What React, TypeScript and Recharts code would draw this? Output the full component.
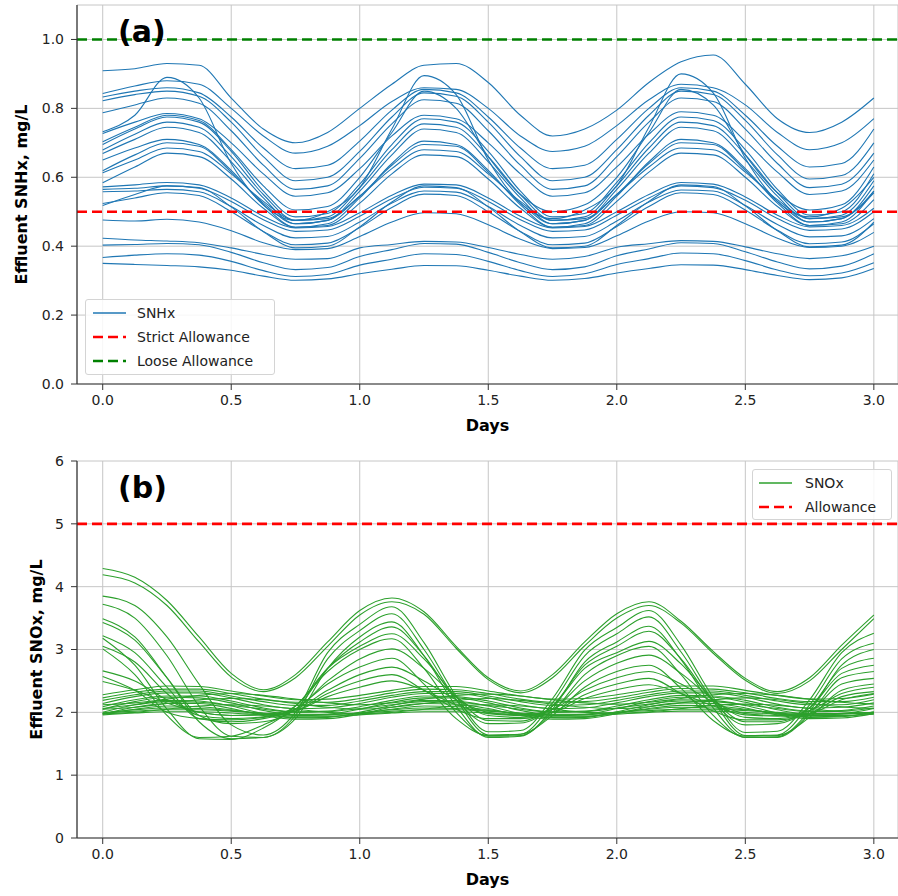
import { CartesianGrid, Label, Line, LineChart, ReferenceLine, XAxis, YAxis } from "recharts";

// time axis (days), sampled every 3 hours
const DAYS = [
  0, 0.125, 0.25, 0.375, 0.5, 0.625, 0.75, 0.875,
  1, 1.125, 1.25, 1.375, 1.5, 1.625, 1.75, 1.875,
  2, 2.125, 2.25, 2.375, 2.5, 2.625, 2.75, 2.875, 3,
];
const DAY_TICKS = [0, 0.5, 1, 1.5, 2, 2.5, 3];
const SNHX_TICKS = [0, 0.2, 0.4, 0.6, 0.8, 1.0];
const SNOX_TICKS = [0, 1, 2, 3, 4, 5, 6];

const SNHX_STRICT = 0.5;
const SNHX_LOOSE = 1.0;
const SNOX_ALLOWANCE = 5;

// effluent SNHx runs (mg/L)
const snhx01 = [0.909, 0.915, 0.93, 0.925, 0.83, 0.74, 0.7, 0.73, 0.8, 0.87, 0.925, 0.93, 0.875, 0.78, 0.72, 0.74, 0.795, 0.875, 0.935, 0.955, 0.87, 0.77, 0.73, 0.76, 0.83];
const snhx02 = [0.843, 0.865, 0.88, 0.87, 0.8, 0.72, 0.67, 0.69, 0.75, 0.82, 0.86, 0.855, 0.8, 0.72, 0.675, 0.69, 0.75, 0.825, 0.87, 0.86, 0.81, 0.73, 0.68, 0.7, 0.77];
const snhx03 = [0.833, 0.85, 0.86, 0.845, 0.775, 0.685, 0.625, 0.635, 0.705, 0.795, 0.855, 0.845, 0.775, 0.685, 0.625, 0.635, 0.71, 0.8, 0.86, 0.85, 0.78, 0.69, 0.63, 0.64, 0.74];
const snhx04 = [0.822, 0.84, 0.85, 0.835, 0.76, 0.66, 0.59, 0.6, 0.675, 0.775, 0.845, 0.835, 0.76, 0.66, 0.59, 0.6, 0.68, 0.78, 0.85, 0.84, 0.765, 0.665, 0.595, 0.605, 0.7];
const snhx05 = [0.787, 0.81, 0.83, 0.815, 0.735, 0.635, 0.565, 0.575, 0.655, 0.755, 0.825, 0.815, 0.735, 0.635, 0.565, 0.575, 0.66, 0.76, 0.83, 0.82, 0.74, 0.64, 0.57, 0.58, 0.67];
const snhx06 = [0.732, 0.78, 0.89, 0.83, 0.64, 0.52, 0.475, 0.5, 0.57, 0.74, 0.895, 0.84, 0.65, 0.525, 0.48, 0.505, 0.575, 0.745, 0.9, 0.845, 0.655, 0.53, 0.485, 0.51, 0.6];
const snhx07 = [0.727, 0.76, 0.785, 0.77, 0.7, 0.61, 0.545, 0.555, 0.625, 0.72, 0.78, 0.77, 0.7, 0.61, 0.545, 0.555, 0.63, 0.725, 0.79, 0.78, 0.705, 0.615, 0.55, 0.56, 0.65];
const snhx08 = [0.703, 0.745, 0.78, 0.765, 0.68, 0.575, 0.505, 0.515, 0.6, 0.73, 0.85, 0.8, 0.66, 0.55, 0.5, 0.52, 0.6, 0.73, 0.855, 0.81, 0.665, 0.555, 0.505, 0.52, 0.63];
const snhx09 = [0.695, 0.74, 0.775, 0.76, 0.675, 0.56, 0.485, 0.495, 0.58, 0.695, 0.77, 0.76, 0.675, 0.56, 0.485, 0.495, 0.585, 0.7, 0.775, 0.765, 0.68, 0.565, 0.49, 0.5, 0.61];
const snhx10 = [0.679, 0.725, 0.76, 0.745, 0.66, 0.55, 0.475, 0.485, 0.57, 0.68, 0.755, 0.745, 0.66, 0.55, 0.475, 0.485, 0.575, 0.685, 0.76, 0.75, 0.665, 0.555, 0.48, 0.49, 0.59];
const snhx11 = [0.669, 0.71, 0.745, 0.73, 0.645, 0.54, 0.465, 0.475, 0.56, 0.665, 0.74, 0.73, 0.645, 0.54, 0.465, 0.475, 0.565, 0.67, 0.745, 0.735, 0.65, 0.545, 0.47, 0.48, 0.575];
const snhx12 = [0.65, 0.685, 0.71, 0.695, 0.62, 0.52, 0.455, 0.465, 0.54, 0.64, 0.705, 0.695, 0.62, 0.52, 0.455, 0.465, 0.545, 0.645, 0.71, 0.7, 0.625, 0.525, 0.46, 0.47, 0.56];
const snhx13 = [0.619, 0.665, 0.7, 0.69, 0.615, 0.525, 0.465, 0.475, 0.545, 0.635, 0.695, 0.69, 0.615, 0.525, 0.465, 0.475, 0.55, 0.64, 0.7, 0.695, 0.62, 0.53, 0.47, 0.48, 0.56];
const snhx14 = [0.613, 0.65, 0.685, 0.675, 0.61, 0.53, 0.475, 0.48, 0.545, 0.625, 0.68, 0.675, 0.61, 0.53, 0.475, 0.48, 0.55, 0.63, 0.685, 0.68, 0.615, 0.535, 0.48, 0.485, 0.555];
const snhx15 = [0.584, 0.63, 0.67, 0.66, 0.595, 0.51, 0.455, 0.46, 0.525, 0.61, 0.665, 0.66, 0.595, 0.51, 0.455, 0.46, 0.53, 0.615, 0.67, 0.665, 0.6, 0.515, 0.46, 0.465, 0.535];
const snhx16 = [0.572, 0.578, 0.585, 0.578, 0.54, 0.487, 0.453, 0.457, 0.497, 0.548, 0.58, 0.578, 0.54, 0.487, 0.453, 0.457, 0.5, 0.55, 0.585, 0.58, 0.543, 0.49, 0.456, 0.46, 0.51];
const snhx17 = [0.565, 0.568, 0.575, 0.568, 0.53, 0.477, 0.443, 0.447, 0.487, 0.538, 0.571, 0.568, 0.53, 0.477, 0.443, 0.447, 0.49, 0.54, 0.575, 0.57, 0.533, 0.48, 0.446, 0.45, 0.5];
const snhx18 = [0.558, 0.56, 0.565, 0.558, 0.515, 0.46, 0.424, 0.428, 0.47, 0.525, 0.56, 0.557, 0.515, 0.46, 0.424, 0.428, 0.473, 0.528, 0.563, 0.56, 0.518, 0.463, 0.427, 0.43, 0.48];
const snhx19 = [0.524, 0.54, 0.555, 0.547, 0.5, 0.443, 0.404, 0.409, 0.454, 0.512, 0.551, 0.547, 0.5, 0.443, 0.404, 0.409, 0.457, 0.515, 0.555, 0.55, 0.505, 0.446, 0.407, 0.412, 0.465];
const snhx20 = [0.518, 0.55, 0.575, 0.57, 0.514, 0.442, 0.395, 0.4, 0.456, 0.528, 0.575, 0.57, 0.514, 0.442, 0.395, 0.4, 0.46, 0.53, 0.578, 0.573, 0.517, 0.445, 0.398, 0.403, 0.47];
const snhx21 = [0.476, 0.473, 0.478, 0.47, 0.445, 0.41, 0.39, 0.393, 0.428, 0.47, 0.497, 0.494, 0.462, 0.42, 0.393, 0.396, 0.43, 0.473, 0.5, 0.497, 0.465, 0.423, 0.396, 0.4, 0.44];
const snhx22 = [0.423, 0.418, 0.415, 0.41, 0.395, 0.376, 0.362, 0.364, 0.395, 0.405, 0.414, 0.412, 0.396, 0.376, 0.362, 0.37, 0.397, 0.407, 0.416, 0.414, 0.398, 0.378, 0.364, 0.372, 0.4];
const snhx23 = [0.403, 0.405, 0.408, 0.404, 0.382, 0.352, 0.332, 0.338, 0.37, 0.39, 0.408, 0.406, 0.382, 0.352, 0.332, 0.34, 0.372, 0.392, 0.41, 0.408, 0.384, 0.354, 0.334, 0.342, 0.378];
const snhx24 = [0.367, 0.374, 0.378, 0.374, 0.356, 0.329, 0.312, 0.318, 0.345, 0.362, 0.378, 0.376, 0.356, 0.329, 0.312, 0.32, 0.347, 0.364, 0.38, 0.378, 0.358, 0.331, 0.314, 0.322, 0.352];
const snhx25 = [0.35, 0.347, 0.344, 0.34, 0.33, 0.313, 0.301, 0.305, 0.32, 0.333, 0.344, 0.343, 0.33, 0.313, 0.301, 0.306, 0.322, 0.335, 0.346, 0.345, 0.332, 0.315, 0.303, 0.308, 0.335];

const SNHX_RUNS = [
  snhx01, snhx02, snhx03, snhx04, snhx05, snhx06, snhx07, snhx08, snhx09, snhx10,
  snhx11, snhx12, snhx13, snhx14, snhx15, snhx16, snhx17, snhx18, snhx19, snhx20,
  snhx21, snhx22, snhx23, snhx24, snhx25,
];

// effluent SNOx runs (mg/L)
const snox01 = [4.29, 4.15, 3.78, 3.2, 2.62, 2.36, 2.6, 3.12, 3.62, 3.82, 3.6, 3.05, 2.55, 2.34, 2.6, 3.12, 3.57, 3.76, 3.45, 2.97, 2.54, 2.33, 2.55, 3.07, 3.55];
const snox02 = [4.19, 4.06, 3.7, 3.12, 2.56, 2.33, 2.55, 3.05, 3.55, 3.76, 3.56, 3.02, 2.52, 2.31, 2.55, 3.06, 3.5, 3.7, 3.42, 2.94, 2.51, 2.3, 2.5, 3.0, 3.49];
const snox03 = [3.85, 3.7, 3.2, 2.45, 1.8, 1.64, 2.0, 2.95, 3.4, 3.68, 3.11, 2.26, 1.69, 1.71, 2.22, 2.99, 3.35, 3.62, 3.07, 2.24, 1.68, 1.7, 2.2, 2.95, 3.26];
const snox04 = [3.72, 3.5, 2.9, 2.1, 1.62, 1.6, 1.95, 2.85, 3.3, 3.57, 3.0, 2.2, 1.64, 1.65, 2.15, 2.9, 3.25, 3.52, 2.96, 2.18, 1.63, 1.64, 2.12, 2.85, 3.1];
const snox05 = [3.49, 3.2, 2.55, 1.85, 1.58, 1.6, 1.9, 2.7, 3.2, 3.44, 2.9, 2.1, 1.6, 1.62, 2.05, 2.8, 3.12, 3.37, 2.84, 2.07, 1.6, 1.61, 2.02, 2.75, 3.0];
const snox06 = [3.43, 3.15, 2.55, 1.95, 1.82, 1.85, 2.05, 2.7, 3.12, 3.36, 2.9, 2.2, 1.82, 1.83, 2.1, 2.75, 3.05, 3.29, 2.85, 2.17, 1.8, 1.82, 2.07, 2.7, 2.86];
const snox07 = [3.22, 2.95, 2.4, 1.9, 1.85, 1.9, 2.1, 2.7, 3.05, 3.25, 2.85, 2.25, 1.87, 1.86, 2.1, 2.7, 2.95, 3.13, 2.77, 2.2, 1.85, 1.85, 2.07, 2.62, 2.75];
const snox08 = [3.18, 2.75, 2.05, 1.58, 1.57, 1.75, 2.1, 2.65, 3.0, 3.17, 2.7, 2.0, 1.62, 1.63, 2.0, 2.6, 2.9, 3.05, 2.6, 1.95, 1.6, 1.6, 1.97, 2.55, 2.65];
const snox09 = [3.05, 2.8, 2.3, 1.95, 1.9, 1.93, 2.05, 2.5, 2.85, 3.01, 2.7, 2.25, 1.95, 1.92, 2.05, 2.5, 2.78, 2.91, 2.62, 2.2, 1.92, 1.9, 2.02, 2.45, 2.54];
const snox10 = [3.01, 2.6, 1.95, 1.6, 1.62, 1.8, 2.05, 2.45, 2.72, 2.86, 2.45, 1.9, 1.63, 1.65, 1.95, 2.4, 2.65, 2.75, 2.38, 1.87, 1.62, 1.63, 1.92, 2.35, 2.45];
const snox11 = [2.66, 2.5, 2.2, 2.0, 1.95, 1.97, 2.05, 2.35, 2.6, 2.72, 2.5, 2.2, 2.0, 1.96, 2.05, 2.35, 2.55, 2.65, 2.45, 2.17, 1.98, 1.95, 2.03, 2.3, 2.4];
const snox12 = [2.57, 2.35, 2.0, 1.9, 1.88, 1.92, 2.02, 2.3, 2.5, 2.6, 2.35, 2.05, 1.9, 1.9, 2.0, 2.28, 2.45, 2.54, 2.3, 2.02, 1.88, 1.88, 1.98, 2.25, 2.33];
const snox13 = [2.49, 2.35, 2.15, 2.0, 1.95, 1.96, 2.02, 2.25, 2.4, 2.5, 2.35, 2.12, 1.98, 1.95, 2.0, 2.22, 2.36, 2.44, 2.3, 2.1, 1.96, 1.94, 1.98, 2.2, 2.3];
const snox14 = [2.28, 2.36, 2.42, 2.41, 2.34, 2.26, 2.2, 2.21, 2.27, 2.35, 2.41, 2.41, 2.34, 2.26, 2.21, 2.22, 2.28, 2.36, 2.42, 2.42, 2.35, 2.27, 2.21, 2.22, 2.29];
const snox15 = [2.23, 2.32, 2.37, 2.37, 2.3, 2.21, 2.16, 2.16, 2.22, 2.31, 2.37, 2.36, 2.3, 2.21, 2.16, 2.17, 2.23, 2.32, 2.38, 2.37, 2.31, 2.22, 2.17, 2.17, 2.24];
const snox16 = [2.19, 2.28, 2.34, 2.34, 2.26, 2.17, 2.11, 2.11, 2.18, 2.27, 2.33, 2.33, 2.26, 2.17, 2.11, 2.12, 2.19, 2.28, 2.34, 2.34, 2.27, 2.18, 2.12, 2.12, 2.2];
const snox17 = [2.14, 2.25, 2.31, 2.31, 2.23, 2.12, 2.06, 2.07, 2.14, 2.24, 2.3, 2.3, 2.23, 2.12, 2.06, 2.07, 2.15, 2.25, 2.31, 2.31, 2.24, 2.13, 2.07, 2.08, 2.15];
const snox18 = [2.12, 2.15, 2.21, 2.27, 2.3, 2.27, 2.21, 2.15, 2.12, 2.15, 2.21, 2.27, 2.29, 2.26, 2.2, 2.15, 2.13, 2.16, 2.22, 2.28, 2.3, 2.27, 2.21, 2.16, 2.13];
const snox19 = [2.09, 2.2, 2.26, 2.26, 2.18, 2.07, 2.01, 2.02, 2.09, 2.19, 2.26, 2.25, 2.18, 2.07, 2.01, 2.02, 2.1, 2.2, 2.27, 2.26, 2.19, 2.08, 2.02, 2.03, 2.1];
const snox20 = [2.05, 2.17, 2.24, 2.23, 2.15, 2.03, 1.96, 1.97, 2.05, 2.16, 2.23, 2.23, 2.15, 2.03, 1.96, 1.97, 2.06, 2.17, 2.24, 2.24, 2.16, 2.04, 1.97, 1.98, 2.06];
const snox21 = [2.05, 2.08, 2.14, 2.2, 2.22, 2.2, 2.14, 2.08, 2.05, 2.08, 2.14, 2.19, 2.22, 2.19, 2.13, 2.08, 2.06, 2.09, 2.15, 2.2, 2.23, 2.2, 2.14, 2.09, 2.06];
const snox22 = [2.0, 2.12, 2.19, 2.18, 2.1, 1.98, 1.91, 1.92, 2.0, 2.11, 2.19, 2.18, 2.1, 1.98, 1.91, 1.92, 2.01, 2.12, 2.2, 2.19, 2.11, 1.99, 1.92, 1.93, 2.01];
const snox23 = [2.06, 2.12, 2.17, 2.16, 2.11, 2.05, 2.0, 2.01, 2.06, 2.12, 2.17, 2.16, 2.11, 2.05, 2.0, 2.01, 2.07, 2.13, 2.18, 2.17, 2.12, 2.06, 2.01, 2.02, 2.07];
const snox24 = [1.97, 2.08, 2.14, 2.14, 2.06, 1.95, 1.89, 1.9, 1.97, 2.08, 2.14, 2.13, 2.06, 1.95, 1.89, 1.9, 1.98, 2.09, 2.15, 2.14, 2.07, 1.96, 1.9, 1.91, 1.98];
const snox25 = [1.98, 2.0, 2.05, 2.1, 2.12, 2.1, 2.05, 2.0, 1.98, 2.0, 2.05, 2.1, 2.12, 2.1, 2.05, 2.0, 1.99, 2.01, 2.06, 2.11, 2.13, 2.11, 2.06, 2.01, 1.99];
const snox26 = [1.98, 2.05, 2.1, 2.09, 2.04, 1.97, 1.92, 1.93, 1.98, 2.05, 2.1, 2.09, 2.04, 1.97, 1.92, 1.93, 1.99, 2.06, 2.11, 2.1, 2.05, 1.98, 1.93, 1.94, 1.99];
const snox27 = [1.99, 2.04, 2.07, 2.06, 2.03, 1.98, 1.95, 1.96, 1.99, 2.04, 2.07, 2.06, 2.03, 1.98, 1.95, 1.96, 2.0, 2.05, 2.08, 2.07, 2.04, 1.99, 1.96, 1.97, 2.0];
const snox28 = [1.99, 2.02, 2.04, 2.04, 2.02, 1.99, 1.97, 1.97, 1.99, 2.02, 2.04, 2.04, 2.02, 1.99, 1.97, 1.97, 2.0, 2.03, 2.05, 2.05, 2.03, 2.0, 1.98, 1.98, 2.0];
const snox29 = [1.96, 1.99, 2.01, 2.01, 1.99, 1.96, 1.94, 1.94, 1.96, 1.99, 2.01, 2.01, 1.99, 1.96, 1.94, 1.94, 1.97, 2.0, 2.02, 2.02, 2.0, 1.97, 1.95, 1.95, 1.97];

const SNOX_RUNS = [
  snox01, snox02, snox03, snox04, snox05, snox06, snox07, snox08, snox09, snox10,
  snox11, snox12, snox13, snox14, snox15, snox16, snox17, snox18, snox19, snox20,
  snox21, snox22, snox23, snox24, snox25, snox26, snox27, snox28, snox29,
];

const FONT = "'DejaVu Sans', sans-serif";
const INK = "#222";
const SPINE = "#333";
const GRID = "#c6c6c6";
const BLUE = "#1f77b4";
const GREEN = "#2ca02c";
const RED = "#ff0000";
const DARK_GREEN = "#008000";
const X_DOMAIN: [number, number] = [-0.1, 3.094];
const WIDTH = 898;
const Y_AXIS_W = 77;

function toRows(runs: number[][]) {
  return DAYS.map((t, i) => {
    const row: Record<string, number> = { t };
    runs.forEach((r, j) => {
      row[`r${j}`] = r[i];
    });
    return row;
  });
}

type RefSpec = { y: number; color: string; name: string };

type PanelProps = {
  height: number;
  top: number;
  xAxisH: number;
  runs: number[][];
  color: string;
  runName: string;
  yMax: number;
  yTicks: number[];
  yFmt: (v: number) => string;
  yLabel: string;
  yLabelX: number;
  refs: RefSpec[];
  tag: string;
  legendBox: { left: number; top: number; width: number; height: number; sampleX: number; textX: number; firstY: number };
};

function LegendSample({ color, dashed, width }: { color: string; dashed: boolean; width: number }) {
  return (
    <svg width={34} height={6} style={{ display: "block" }}>
      <line
        x1={0}
        x2={33}
        y1={3}
        y2={3}
        stroke={color}
        strokeWidth={width}
        strokeDasharray={dashed ? "10 5" : undefined}
      />
    </svg>
  );
}

function Panel(p: PanelProps) {
  const rows = toRows(p.runs);
  const plotBottom = p.height - p.xAxisH;
  const plotMidY = (p.top + plotBottom) / 2;
  const plotMidX = Y_AXIS_W + (WIDTH - Y_AXIS_W) / 2;
  const entries = [
    { name: p.runName, color: p.color, dashed: false, w: 1.4 },
    ...p.refs.map((r) => ({ name: r.name, color: r.color, dashed: true, w: 2.6 })),
  ];
  const lb = p.legendBox;

  return (
    <div style={{ position: "relative", width: WIDTH, height: p.height }}>
      <LineChart width={WIDTH} height={p.height} data={rows} margin={{ top: p.top, right: 0, bottom: 0, left: 0 }}>
        <CartesianGrid stroke={GRID} strokeWidth={1} />
        <XAxis
          xAxisId="top"
          orientation="top"
          type="number"
          dataKey="t"
          domain={X_DOMAIN}
          ticks={DAY_TICKS}
          allowDataOverflow
          height={0}
          tick={false}
          tickLine={false}
          axisLine={{ stroke: SPINE, strokeWidth: 1.2 }}
        />
        <XAxis
          type="number"
          dataKey="t"
          domain={X_DOMAIN}
          ticks={DAY_TICKS}
          allowDataOverflow
          height={p.xAxisH}
          tickSize={6}
          tickMargin={5}
          axisLine={{ stroke: SPINE, strokeWidth: 1.2 }}
          tickLine={{ stroke: SPINE }}
          tick={{ fill: INK, fontSize: 14, fontFamily: FONT }}
          tickFormatter={(v: number) => v.toFixed(1)}
        >
          <Label
            content={() => (
              <text
                x={plotMidX}
                y={plotBottom + 41}
                textAnchor="middle"
                dominantBaseline="central"
                fontFamily={FONT}
                fontSize={16}
                fontWeight="bold"
                fill="#000"
              >
                Days
              </text>
            )}
          />
        </XAxis>
        <YAxis
          type="number"
          domain={[0, p.yMax]}
          ticks={p.yTicks}
          allowDataOverflow
          width={Y_AXIS_W}
          tickSize={6}
          tickMargin={7}
          axisLine={{ stroke: SPINE, strokeWidth: 1.2 }}
          tickLine={{ stroke: SPINE }}
          tick={{ fill: INK, fontSize: 14, fontFamily: FONT }}
          tickFormatter={p.yFmt}
        >
          <Label
            content={() => (
              <text
                x={p.yLabelX}
                y={plotMidY}
                transform={`rotate(-90 ${p.yLabelX} ${plotMidY})`}
                textAnchor="middle"
                dominantBaseline="central"
                fontFamily={FONT}
                fontSize={16}
                fontWeight="bold"
                fill="#000"
              >
                {p.yLabel}
              </text>
            )}
          />
        </YAxis>
        {p.runs.map((_, j) => (
          <Line
            key={j}
            type="monotone"
            dataKey={`r${j}`}
            stroke={p.color}
            strokeWidth={1.1}
            dot={false}
            activeDot={false}
            isAnimationActive={false}
          />
        ))}
        {p.refs.map((r) => (
          <ReferenceLine key={r.name} y={r.y} stroke={r.color} strokeWidth={2.6} strokeDasharray="10 5" />
        ))}
      </LineChart>

      <div
        style={{
          position: "absolute",
          left: 118,
          top: p.top + 12,
          fontFamily: FONT,
          fontSize: 30,
          fontWeight: "bold",
          lineHeight: 1,
          color: "#000",
        }}
      >
        {p.tag}
      </div>

      <div
        style={{
          position: "absolute",
          left: lb.left,
          top: lb.top,
          width: lb.width,
          height: lb.height,
          boxSizing: "border-box",
          border: "1px solid #d4d4d4",
          borderRadius: 3,
          background: "rgba(255,255,255,0.85)",
          fontFamily: FONT,
          fontSize: 14,
          color: INK,
        }}
      >
        {entries.map((e, i) => (
          <div
            key={e.name}
            style={{
              position: "absolute",
              left: 0,
              top: lb.firstY + i * 24 - 12,
              height: 24,
              width: "100%",
              display: "flex",
              alignItems: "center",
            }}
          >
            <div style={{ position: "absolute", left: lb.sampleX }}>
              <LegendSample color={e.color} dashed={e.dashed} width={e.w} />
            </div>
            <span style={{ position: "absolute", left: lb.textX, whiteSpace: "nowrap" }}>{e.name}</span>
          </div>
        ))}
      </div>
    </div>
  );
}

export default function App() {
  return (
    <div style={{ position: "absolute", left: 0, top: 0, width: WIDTH, height: 896, background: "#fff" }}>
      <Panel
        height={445}
        top={5}
        xAxisH={61}
        runs={SNHX_RUNS}
        color={BLUE}
        runName="SNHx"
        yMax={1.1}
        yTicks={SNHX_TICKS}
        yFmt={(v) => v.toFixed(1)}
        yLabel="Effluent SNHx, mg/L"
        yLabelX={21}
        refs={[
          { y: SNHX_STRICT, color: RED, name: "Strict Allowance" },
          { y: SNHX_LOOSE, color: DARK_GREEN, name: "Loose Allowance" },
        ]}
        tag="(a)"
        legendBox={{ left: 85, top: 299, width: 190, height: 76, sampleX: 7, textX: 51, firstY: 13 }}
      />
      <Panel
        height={451}
        top={16}
        xAxisH={58}
        runs={SNOX_RUNS}
        color={GREEN}
        runName="SNOx"
        yMax={6}
        yTicks={SNOX_TICKS}
        yFmt={(v) => String(v)}
        yLabel="Effluent SNOx, mg/L"
        yLabelX={36}
        refs={[{ y: SNOX_ALLOWANCE, color: RED, name: "Allowance" }]}
        tag="(b)"
        legendBox={{ left: 752, top: 24, width: 140, height: 51, sampleX: 6, textX: 52, firstY: 13 }}
      />
    </div>
  );
}
